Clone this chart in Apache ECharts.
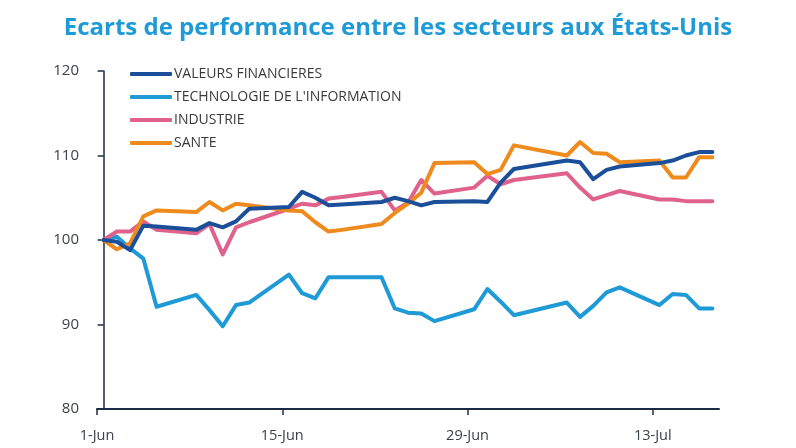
<!DOCTYPE html>
<html>
<head>
<meta charset="utf-8">
<script src="https://cdn.jsdelivr.net/npm/echarts@6/dist/echarts.min.js"></script>
<style>html,body{margin:0;padding:0;background:#fff;}#c{width:796px;height:448px;}</style>
</head>
<body>
<div id="c"></div>
<script>
const dates = ['2020-06-01','2020-06-02','2020-06-03','2020-06-04','2020-06-05',
  '2020-06-08','2020-06-09','2020-06-10','2020-06-11','2020-06-12',
  '2020-06-15','2020-06-16','2020-06-17','2020-06-18','2020-06-19',
  '2020-06-22','2020-06-23','2020-06-24','2020-06-25','2020-06-26',
  '2020-06-29','2020-06-30','2020-07-01','2020-07-02',
  '2020-07-06','2020-07-07','2020-07-08','2020-07-09','2020-07-10',
  '2020-07-13','2020-07-14','2020-07-15','2020-07-16','2020-07-17'];
const financieres = [100, 99.8, 98.8, 101.7, 101.6, 101.2, 102.0, 101.5, 102.2, 103.7,
  103.9, 105.7, 105.0, 104.1, 104.2, 104.5, 105.0, 104.6, 104.1, 104.5,
  104.6, 104.5, 106.8, 108.4, 109.4, 109.2, 107.2, 108.3, 108.7,
  109.1, 109.4, 110.0, 110.4, 110.4];
const technologie = [100, 100.4, 99.0, 97.8, 92.1, 93.5, 91.7, 89.8, 92.3, 92.6,
  95.9, 93.7, 93.1, 95.6, 95.6, 95.6, 91.9, 91.4, 91.3, 90.4,
  91.8, 94.2, 92.7, 91.1, 92.6, 90.9, 92.2, 93.8, 94.4,
  92.3, 93.6, 93.5, 91.9, 91.9];
const industrie = [100, 101.0, 101.0, 102.2, 101.2, 100.8, 101.9, 98.3, 101.5, 102.1,
  103.7, 104.3, 104.1, 104.9, 105.1, 105.7, 103.5, 104.4, 107.1, 105.5,
  106.2, 107.6, 106.6, 107.1, 107.9, 106.2, 104.8, 105.3, 105.8,
  104.8, 104.8, 104.6, 104.6, 104.6];
const sante = [100, 98.9, 99.6, 102.8, 103.5, 103.3, 104.5, 103.5, 104.3, 104.1,
  103.5, 103.4, 102.1, 101.0, 101.2, 101.9, 103.2, 104.3, 105.6, 109.1,
  109.2, 107.8, 108.3, 111.2, 110.0, 111.6, 110.3, 110.2, 109.2,
  109.4, 107.4, 107.4, 109.8, 109.8];
const seriesNames = ['VALEURS FINANCIERES', "TECHNOLOGIE DE L'INFORMATION", 'INDUSTRIE', 'SANTE'];
const colors = ['#1b4f99', '#1e9ad6', '#e0628c', '#ef8b1c'];
const monthNames = ['Jan','Feb','Mar','Apr','May','Jun','Jul','Aug','Sep','Oct','Nov','Dec'];
const startDate = Date.UTC(2020, 5, 1);
const DAY = 86400000;

function dayIndex(s) {
  const p = s.split('-').map(Number);
  return (Date.UTC(p[0], p[1] - 1, p[2]) - startDate) / DAY;
}
function pairs(vals) { return dates.map((d, i) => [dayIndex(d), vals[i]]); }

const allVals = [financieres, technologie, industrie, sante];
const chart = echarts.init(document.getElementById('c'), null, {renderer: 'canvas'});
const font = "'Open Sans', sans-serif";
chart.setOption({
  animation: false,
  backgroundColor: '#fff',
  title: {
    text: 'Ecarts de performance entre les secteurs aux États-Unis',
    left: 'center', top: 11,
    textStyle: {color: '#1e9ad6', fontSize: 24, fontWeight: 'bold', fontFamily: font}
  },
  legend: {
    orient: 'vertical', left: 125, top: 62,
    icon: 'roundRect',
    itemWidth: 42, itemHeight: 4, itemGap: 9,
    textStyle: {color: '#3a3a3a', fontSize: 14, fontFamily: font, padding: [0,0,0,-3]},
    data: seriesNames
  },
  grid: {left: 97, right: 77, top: 71, bottom: 39},
  xAxis: {
    type: 'value', min: -0.5, max: 46.5, interval: 14,
    axisLine: {show: true, lineStyle: {color: '#1c2b45', width: 2}},
    axisTick: {show: true, length: 6, lineStyle: {color: '#1c2b45', width: 1.5}},
    splitLine: {show: false},
    axisLabel: {
      showMaxLabel: false, margin: 19, color: '#3c4148', fontSize: 14.5, fontFamily: font,
      formatter: v => {
        const d = new Date(startDate + Math.round(v + 0.5) * DAY);
        return d.getUTCDate() + '-' + monthNames[d.getUTCMonth()];
      }
    }
  },
  yAxis: {
    type: 'value', min: 80, max: 120, interval: 10,
    axisLine: {show: true, lineStyle: {color: '#1c2b45', width: 1.5}},
    axisTick: {show: true, length: 6, lineStyle: {color: '#1c2b45', width: 1.5}},
    splitLine: {show: false},
    axisLabel: {margin: 18, color: '#3c4148', fontSize: 15, fontFamily: font}
  },
  series: seriesNames.map((n, i) => ({
    name: n, type: 'line', data: pairs(allVals[i]),
    symbol: 'none', color: colors[i],
    lineStyle: {width: 4, color: colors[i], join: 'round', cap: 'round'},
    z: [4, 1, 2, 3][i]
  }))
});
</script>
</body>
</html>
